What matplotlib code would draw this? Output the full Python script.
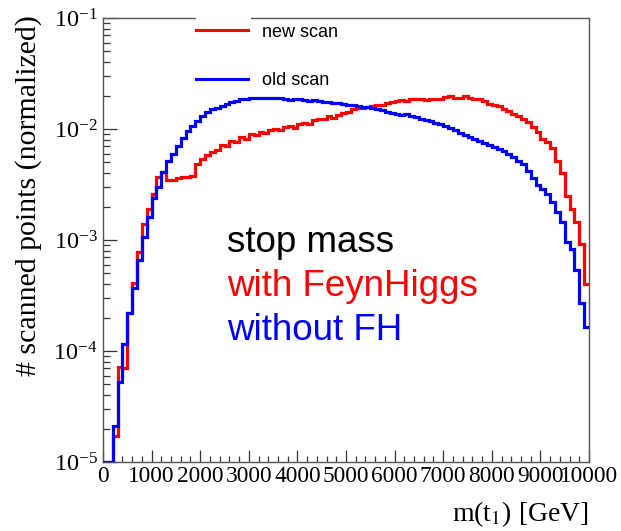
import numpy as np
import matplotlib
matplotlib.use("Agg")
import matplotlib.pyplot as plt
from matplotlib.ticker import LogLocator, MultipleLocator, NullFormatter
from matplotlib.lines import Line2D
from matplotlib.patches import Rectangle

plt.rcParams["mathtext.fontset"] = "stix"
plt.rcParams["font.family"] = ["Liberation Serif", "DejaVu Serif"]

# 100 GeV bins from 0 to 10 TeV
bin_edges = np.linspace(0, 10000, 101)

# normalized stop-mass distribution, old scan (without FeynHiggs)
old_scan = [
    0, 0, 2.1e-5, 5.3e-5, 1.16e-4, 2.2e-4, 3.7e-4, 6.6e-4, 1.06e-3, 1.6e-3,
    2.4e-3, 3.0e-3, 4.1e-3, 5.1e-3, 6.0e-3, 7.0e-3, 8.3e-3, 9.6e-3, 1.06e-2, 1.18e-2,
    1.31e-2, 1.42e-2, 1.50e-2, 1.56e-2, 1.62e-2, 1.68e-2, 1.75e-2, 1.80e-2, 1.85e-2, 1.88e-2,
    1.90e-2, 1.91e-2, 1.92e-2, 1.90e-2, 1.91e-2, 1.89e-2, 1.90e-2, 1.86e-2, 1.82e-2, 1.86e-2,
    1.85e-2, 1.83e-2, 1.80e-2, 1.81e-2, 1.78e-2, 1.76e-2, 1.74e-2, 1.72e-2, 1.70e-2, 1.67e-2,
    1.65e-2, 1.63e-2, 1.60e-2, 1.58e-2, 1.57e-2, 1.55e-2, 1.51e-2, 1.47e-2, 1.43e-2, 1.40e-2,
    1.37e-2, 1.35e-2, 1.37e-2, 1.31e-2, 1.27e-2, 1.24e-2, 1.21e-2, 1.18e-2, 1.14e-2, 1.10e-2,
    1.06e-2, 1.02e-2, 9.7e-3, 9.2e-3, 8.8e-3, 8.4e-3, 8.1e-3, 7.8e-3, 7.5e-3, 7.2e-3,
    6.9e-3, 6.6e-3, 6.3e-3, 5.9e-3, 5.6e-3, 5.2e-3, 4.8e-3, 4.2e-3, 3.6e-3, 3.1e-3,
    2.9e-3, 2.6e-3, 2.2e-3, 1.8e-3, 1.46e-3, 9.6e-4, 8.3e-4, 5.4e-4, 2.7e-4, 1.65e-4,
]

# normalized stop-mass distribution, new scan (with FeynHiggs)
new_scan = [
    0, 0, 1.7e-5, 7.2e-5, 7.0e-5, 2.2e-4, 4.1e-4, 7.8e-4, 1.4e-3, 1.9e-3,
    2.6e-3, 3.7e-3, 4.1e-3, 3.5e-3, 3.5e-3, 3.6e-3, 3.7e-3, 3.7e-3, 3.8e-3, 4.8e-3,
    5.4e-3, 5.8e-3, 6.2e-3, 6.5e-3, 7.2e-3, 7.0e-3, 7.8e-3, 7.6e-3, 8.4e-3, 8.2e-3,
    9.0e-3, 8.8e-3, 9.4e-3, 9.2e-3, 9.8e-3, 1.00e-2, 9.7e-3, 1.04e-2, 1.06e-2, 1.03e-2,
    1.10e-2, 1.14e-2, 1.12e-2, 1.20e-2, 1.24e-2, 1.22e-2, 1.30e-2, 1.26e-2, 1.35e-2, 1.40e-2,
    1.42e-2, 1.50e-2, 1.55e-2, 1.53e-2, 1.57e-2, 1.62e-2, 1.65e-2, 1.63e-2, 1.72e-2, 1.76e-2,
    1.80e-2, 1.83e-2, 1.78e-2, 1.85e-2, 1.88e-2, 1.86e-2, 1.82e-2, 1.88e-2, 1.87e-2, 1.85e-2,
    1.96e-2, 1.98e-2, 1.90e-2, 1.92e-2, 2.00e-2, 1.90e-2, 1.88e-2, 1.85e-2, 1.78e-2, 1.68e-2,
    1.65e-2, 1.60e-2, 1.50e-2, 1.45e-2, 1.36e-2, 1.30e-2, 1.24e-2, 1.16e-2, 1.04e-2, 9.4e-3,
    8.2e-3, 7.6e-3, 6.8e-3, 5.2e-3, 4.0e-3, 2.5e-3, 1.9e-3, 1.46e-3, 9.2e-4, 4.0e-4,
]

y_min, y_max = 1e-5, 1e-1
legend_labels = ["new scan", "old scan"]
note_lines = ["stop mass", "with FeynHiggs", "without FH"]
note_colors = ["black", "#ff0000", "#0000ff"]

fig = plt.figure(figsize=(6.21, 5.31), dpi=100)
ax = fig.add_axes([103 / 621, 1 - 462 / 531, (589 - 103) / 621, (462 - 18) / 531])

def floored(vals):
    v = np.asarray(vals, dtype=float)
    return np.where(v > 0, v, y_min)

ax.stairs(floored(new_scan), bin_edges, baseline=None, color="#ff0000", lw=2.3, zorder=3)
ax.stairs(floored(old_scan), bin_edges, baseline=None, color="#0000ff", lw=2.3, zorder=4)

ax.set_yscale("log")
ax.set_xlim(0, 10000)
ax.set_ylim(y_min, y_max)

ax.xaxis.set_major_locator(MultipleLocator(1000))
ax.xaxis.set_minor_locator(MultipleLocator(200))
ax.yaxis.set_major_locator(LogLocator(base=10, numticks=10))
ax.yaxis.set_minor_locator(LogLocator(base=10, subs=np.arange(2, 10), numticks=10))
ax.yaxis.set_minor_formatter(NullFormatter())

ax.tick_params(axis="both", which="both", direction="in", top=False, right=False,
               color="#333333", width=0.9)
ax.tick_params(axis="x", which="major", length=9, labelsize=16.8, pad=3)
ax.tick_params(axis="x", which="minor", length=4.5)
ax.tick_params(axis="y", which="major", length=10, labelsize=17.5, pad=4)
ax.tick_params(axis="y", which="minor", length=5)
for side in ["left", "bottom", "top", "right"]:
    ax.spines[side].set_color("#555555")
    ax.spines[side].set_linewidth(1.0)

ax.set_ylabel("# scanned points (normalized)", fontsize=21.5)
ax.yaxis.set_label_coords(-0.125, 0.60)
ax.set_xlabel(r"m(t$_{1}$) [GeV]", fontsize=20, loc="right", labelpad=9)

# legend sits on top of the frame; a white patch clears the frame behind the line samples
fig.patches.append(Rectangle((196 / 621, 1 - 24 / 531), 55 / 621, 12 / 531,
                             transform=fig.transFigure, facecolor="white", edgecolor="none",
                             zorder=9))
handles = [Line2D([], [], color="#ff0000", lw=2.2), Line2D([], [], color="#0000ff", lw=2.2)]
leg = fig.legend(handles, legend_labels, loc="upper left", bbox_to_anchor=(192 / 621, 1 - 20 / 531),
                 frameon=False, prop={"family": "Liberation Sans", "size": 13},
                 handlelength=2.9, handletextpad=0.8, labelspacing=1.75, borderpad=0.2,
                 borderaxespad=0)
leg.set_zorder(10)

for i, (txt, col) in enumerate(zip(note_lines, note_colors)):
    ax.text(227 / 621, 1 - (243 + 44 * i) / 531, txt, transform=fig.transFigure,
            fontsize=26.5, color=col, family="Liberation Sans", va="center", ha="left")

fig.savefig("out.png", dpi=100)
